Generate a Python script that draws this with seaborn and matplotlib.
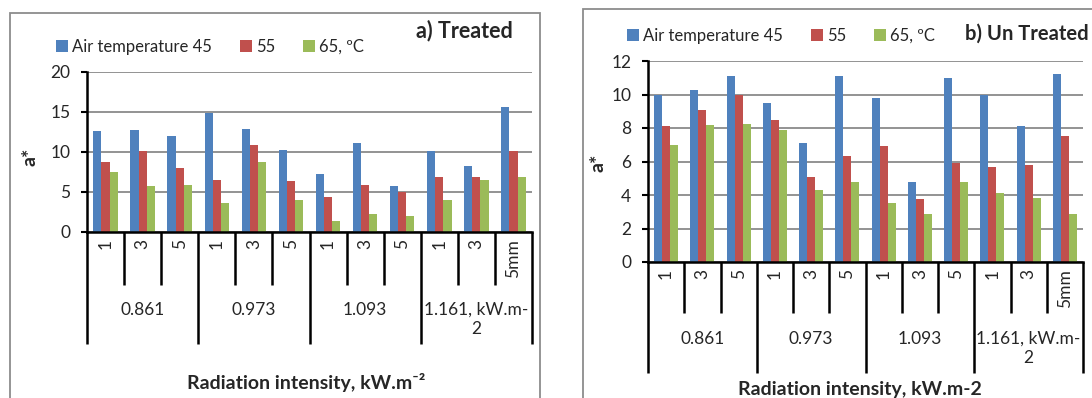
import pandas as pd
import matplotlib.pyplot as plt
import matplotlib.transforms as mtransforms
from matplotlib.patches import Rectangle
import seaborn as sns

# categories on the x axis (thickness within each radiation intensity)
thickness = ["1", "3", "5", "1", "3", "5", "1", "3", "5", "1", "3", "5mm"]
intensity = ["0.861", "0.973", "1.093", "1.161, kW.m-\n2"]
series = ["Air temperature 45", "55", "65, ºC"]
colors = ["#4F81BD", "#C0504D", "#9BBB59"]

# a) Treated
treated_45 = [12.6, 12.7, 12.0, 14.9, 12.9, 10.3, 7.3, 11.1, 5.7, 10.1, 8.2, 15.6]
treated_55 = [8.7, 10.1, 8.0, 6.5, 10.9, 6.4, 4.4, 5.9, 5.0, 6.9, 6.9, 10.1]
treated_65 = [7.5, 5.7, 5.9, 3.6, 8.8, 4.0, 1.4, 2.3, 2.0, 4.0, 6.5, 6.9]

# b) Un Treated
untreated_45 = [9.95, 10.25, 11.1, 9.5, 7.1, 11.1, 9.8, 4.8, 11.0, 9.95, 8.1, 11.2]
untreated_55 = [8.1, 9.05, 9.95, 8.5, 5.1, 6.3, 6.9, 3.75, 5.9, 5.7, 5.8, 7.5]
untreated_65 = [7.0, 8.2, 8.25, 7.9, 4.3, 4.8, 3.5, 2.85, 4.8, 4.1, 3.8, 2.85]


def make_frame(s45, s55, s65):
    keys = [f"{i}_{t}" for i, t in enumerate(thickness)]
    rows = []
    for name, vals in zip(series, [s45, s55, s65]):
        for k, v in zip(keys, vals):
            rows.append({"key": k, "series": name, "a": v})
    return pd.DataFrame(rows), keys


sns.set_style("white")
plt.rcParams["font.family"] = ["Lato", "DejaVu Sans"]
FS = 12.5      # tick / category labels
LFS = 12       # legend
BFS = 14       # bold axis labels

fig = plt.figure(figsize=(10.92, 3.98), dpi=100)
W, H = 1092, 398


def px_axes(x0, y0, x1, y1):
    return fig.add_axes([x0 / W, 1 - y1 / H, (x1 - x0) / W, (y1 - y0) / H])


def draw_panel(ax, s45, s55, s65, ymax, ystep, sep_px, grp_px, lab_px):
    df, keys = make_frame(s45, s55, s65)
    sns.barplot(data=df, x="key", y="a", hue="series", order=keys,
                hue_order=series, palette=colors, saturation=1,
                width=0.66, linewidth=0, ax=ax)
    ax.set_ylim(0, ymax)
    ax.set_xlim(-0.5, len(keys) - 0.5)
    ax.set_yticks(range(0, ymax + 1, ystep))
    ax.yaxis.grid(True, color="#8a8a8a", lw=1.3)
    ax.set_axisbelow(True)
    ax.tick_params(axis="y", left=True, length=4, width=1.5, pad=8,
                   labelsize=FS, color="black")
    ax.set_xticks(range(len(keys)))
    ax.set_xticklabels(thickness, rotation=90, fontsize=FS)
    ax.tick_params(axis="x", bottom=False, length=0, pad=5)
    for side in ["top", "right"]:
        ax.spines[side].set_visible(False)
    for side in ["left", "bottom"]:
        ax.spines[side].set_color("black")
        ax.spines[side].set_linewidth(1.8)
    ax.set_xlabel("")
    ax.set_ylabel("")

    # category separators below the axis, drawn in pixel offsets
    hpx = ax.get_position().height * H
    tr = mtransforms.blended_transform_factory(ax.transData, ax.transAxes)
    for i in range(len(keys) + 1):
        depth = grp_px if i % 3 == 0 else sep_px
        ax.plot([i - 0.5, i - 0.5], [0, -depth / hpx], color="black",
                lw=1.8, transform=tr, clip_on=False, solid_capstyle="butt")
    for g, name in enumerate(intensity):
        ax.text(g * 3 + 1, -lab_px / hpx, name, transform=tr, ha="center",
                va="top", fontsize=FS, linespacing=1.2)
    leg = ax.get_legend()
    if leg is not None:
        leg.remove()
    return ax.get_legend_handles_labels()


# panel frames
fig.patches.append(Rectangle((10 / W, -0.05), 530 / W, 1.05 - 13 / H,
                             transform=fig.transFigure, fill=False,
                             edgecolor="#8c8c8c", lw=1.3))
fig.patches.append(Rectangle((583 / W, -0.05), 0.6, 1.05 - 9 / H,
                             transform=fig.transFigure, fill=False,
                             edgecolor="#8c8c8c", lw=1.3))

ax1 = px_axes(87, 72, 532, 232)
h, l = draw_panel(ax1, treated_45, treated_55, treated_65, 20, 5, 53, 112, 70)
ax2 = px_axes(648, 61, 1083, 262)
draw_panel(ax2, untreated_45, untreated_55, untreated_65, 12, 2, 51, 111, 69)

for ax, x0, y0 in [(ax1, 56 / W, 1 - 47 / H), (ax2, 627 / W, 1 - 36 / H)]:
    ax.legend(h, l, loc="center left", bbox_to_anchor=(x0, y0),
              bbox_transform=fig.transFigure, ncol=3, frameon=False,
              fontsize=LFS, handlelength=0.7, handleheight=0.7,
              handletextpad=0.25, columnspacing=1.7, borderpad=0,
              borderaxespad=0)

fig.text(513 / W, 1 - 31 / H, "a) Treated", ha="right", va="center",
         fontsize=15.5, fontweight="bold")
fig.text(1089 / W, 1 - 34 / H, "b) Un Treated", ha="right", va="center",
         fontsize=14.5, fontweight="bold")

fig.text(30 / W, 1 - 157 / H, "a*", rotation=90, ha="center", va="center",
         fontsize=BFS, fontweight="bold")
fig.text(598 / W, 1 - 163 / H, "a*", rotation=90, ha="center", va="center",
         fontsize=BFS, fontweight="bold")

fig.text(306 / W, 1 - 383 / H, "Radiation intensity, kW.m⁻²",
         ha="center", va="center", fontsize=BFS, fontweight="bold")
fig.text(860 / W, 1 - 389 / H, "Radiation intensity, kW.m-2",
         ha="center", va="center", fontsize=BFS, fontweight="bold")

fig.savefig("out.png", dpi=100)
